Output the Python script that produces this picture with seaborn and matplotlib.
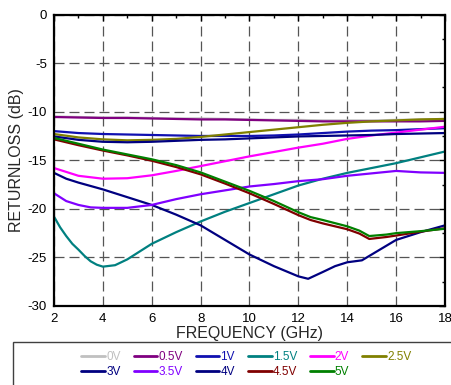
import numpy as np
import pandas as pd
import matplotlib
matplotlib.use("Agg")
import matplotlib.pyplot as plt
from matplotlib.patches import Rectangle
from matplotlib.ticker import MultipleLocator
import seaborn as sns

# bias voltages and colours
biases = ['0V', '0.5V', '1V', '1.5V', '2V', '2.5V', '3V', '3.5V', '4V', '4.5V', '5V']
colors = ['#c0c0c0', '#800080', '#1010b0', '#008080', '#ff00ff', '#808000',
          '#000080', '#8000ff', '#000080', '#800000', '#008000']

# return loss curves (GHz, dB)
f_std = [2, 3, 4, 5, 6, 7, 8, 9, 10, 11, 12, 13, 14, 15, 16, 17, 18]
rl_0v = [-10.5, -10.55, -10.6, -10.6, -10.65, -10.7, -10.7, -10.75, -10.8,
         -10.85, -10.85, -10.9, -10.9, -10.9, -10.85, -10.8, -10.75]
rl_05v = [-10.55, -10.6, -10.65, -10.65, -10.7, -10.75, -10.8, -10.8, -10.85,
          -10.9, -10.95, -11.0, -11.0, -11.0, -11.0, -11.0, -10.95]
rl_1v = [-12.0, -12.2, -12.3, -12.35, -12.4, -12.45, -12.5, -12.5, -12.5,
         -12.45, -12.35, -12.2, -12.05, -11.95, -11.9, -11.8, -11.7]
rl_2v = [-15.8, -16.6, -16.9, -16.85, -16.55, -16.1, -15.6, -15.1, -14.6,
         -14.15, -13.7, -13.3, -12.8, -12.45, -12.15, -11.85, -11.55]
rl_25v = [-12.3, -12.65, -12.85, -12.95, -12.9, -12.8, -12.6, -12.35, -12.1,
          -11.85, -11.6, -11.35, -11.15, -11.0, -10.9, -10.8, -10.75]
rl_4v = [-12.55, -12.9, -13.1, -13.15, -13.1, -13.0, -12.9, -12.85, -12.75,
         -12.65, -12.55, -12.5, -12.45, -12.4, -12.3, -12.25, -12.2]

f_15v = [2, 2.25, 2.5, 2.75, 3, 3.25, 3.5, 3.75, 4, 4.5, 5, 6, 7, 8, 9, 10, 11,
         12, 13, 14, 15, 16, 17, 18]
rl_15v = [-20.8, -21.9, -22.8, -23.6, -24.2, -24.85, -25.4, -25.75, -25.95,
          -25.8, -25.2, -23.6, -22.4, -21.3, -20.3, -19.4, -18.5, -17.6, -16.9,
          -16.3, -15.8, -15.3, -14.7, -14.1]

f_3v = [2, 2.5, 3, 4, 5, 6, 7, 8, 9, 10, 11, 12, 12.4, 13, 13.5, 14, 14.6, 15, 16, 17, 18]
rl_3v = [-16.3, -16.9, -17.3, -18.0, -18.8, -19.6, -20.6, -21.7, -23.2, -24.7, -25.9,
         -26.95, -27.2, -26.5, -25.9, -25.5, -25.3, -24.7, -23.2, -22.4, -21.7]

f_35v = [2, 2.5, 3, 3.5, 4, 5, 6, 7, 8, 9, 10, 11, 12, 13, 14, 15, 16, 17, 18]
rl_35v = [-18.4, -19.2, -19.6, -19.85, -19.9, -19.9, -19.6, -19.0, -18.5, -18.1,
          -17.7, -17.45, -17.15, -16.95, -16.6, -16.35, -16.1, -16.25, -16.3]

f_45 = [2, 3, 4, 5, 6, 7, 8, 9, 10, 11, 12, 12.5, 13, 14, 14.5, 14.9, 15.6, 16, 17, 18]
rl_45v = [-12.85, -13.45, -14.0, -14.5, -15.05, -15.7, -16.45, -17.4, -18.4, -19.5,
          -20.65, -21.15, -21.5, -22.1, -22.55, -23.1, -22.9, -22.75, -22.35, -22.0]
rl_5v = [-12.7, -13.3, -13.9, -14.4, -14.9, -15.5, -16.25, -17.2, -18.15, -19.2,
         -20.35, -20.85, -21.15, -21.8, -22.25, -22.8, -22.65, -22.5, -22.3, -22.05]

series = {
    '0V': (f_std, rl_0v), '0.5V': (f_std, rl_05v), '1V': (f_std, rl_1v),
    '1.5V': (f_15v, rl_15v), '2V': (f_std, rl_2v), '2.5V': (f_std, rl_25v),
    '3V': (f_3v, rl_3v), '3.5V': (f_35v, rl_35v), '4V': (f_std, rl_4v),
    '4.5V': (f_45, rl_45v), '5V': (f_45, rl_5v),
}

df = pd.concat([pd.DataFrame({'freq': fx, 'rl': ry, 'bias': b})
                for b, (fx, ry) in series.items()], ignore_index=True)

sns.set_theme(style="white")
plt.rcParams['font.family'] = ['Liberation Sans', 'DejaVu Sans']
plt.rcParams['axes.unicode_minus'] = False

fig = plt.figure(figsize=(4.52, 3.85), dpi=100)
ax = fig.add_axes([54 / 452, 1 - 306 / 385, 391 / 452, 291.5 / 385])

palette = dict(zip(biases, colors))
sns.lineplot(data=df, x='freq', y='rl', hue='bias', hue_order=biases,
             palette=palette, estimator=None, sort=True, linewidth=1.6, ax=ax)

ax.set_xlim(2, 18)
ax.set_ylim(-30, 0)
ax.xaxis.set_major_locator(MultipleLocator(2))
ax.xaxis.set_minor_locator(MultipleLocator(1))
ax.yaxis.set_major_locator(MultipleLocator(5))
ax.yaxis.set_minor_locator(MultipleLocator(2.5))
ax.grid(True, which='major', color='#555555', linestyle=(0, (8, 4)), linewidth=0.9)
ax.tick_params(which='both', direction='in', top=True, right=True,
               colors='black', labelsize=9.5, pad=5)
ax.tick_params(which='major', length=4, width=1)
ax.tick_params(which='minor', length=2.5, width=1)
for sp in ax.spines.values():
    sp.set_color('black')
    sp.set_linewidth(1.6)

ax.set_xlabel('FREQUENCY (GHz)', fontsize=11.5, labelpad=1)
ax.set_ylabel('RETURNLOSS (dB)', fontsize=11.5, labelpad=3)

# legend in a box under the plot, filled row by row
handles, labels = ax.get_legend_handles_labels()
ax.get_legend().remove()
order = [0, 6, 1, 7, 2, 8, 3, 9, 4, 10, 5]
leg = fig.legend([handles[i] for i in order], [labels[i] for i in order],
                 ncol=6, loc='center', bbox_to_anchor=(0.545, 0.053),
                 frameon=False, handlelength=2.0,
                 handletextpad=0.1, columnspacing=1.1, labelspacing=0.3,
                 prop={'family': ['Liberation Sans Narrow', 'Liberation Sans'], 'size': 8.5})
for txt, ln in zip(leg.get_texts(), leg.get_lines()):
    txt.set_color(ln.get_color())
    ln.set_linewidth(2)

fig.patches.append(Rectangle((13 / 452, -0.2), 1.2, 0.2 + 1 - 342 / 385,
                             transform=fig.transFigure, fill=False,
                             edgecolor='#404040', linewidth=1))

fig.savefig('out.png', dpi=100)
